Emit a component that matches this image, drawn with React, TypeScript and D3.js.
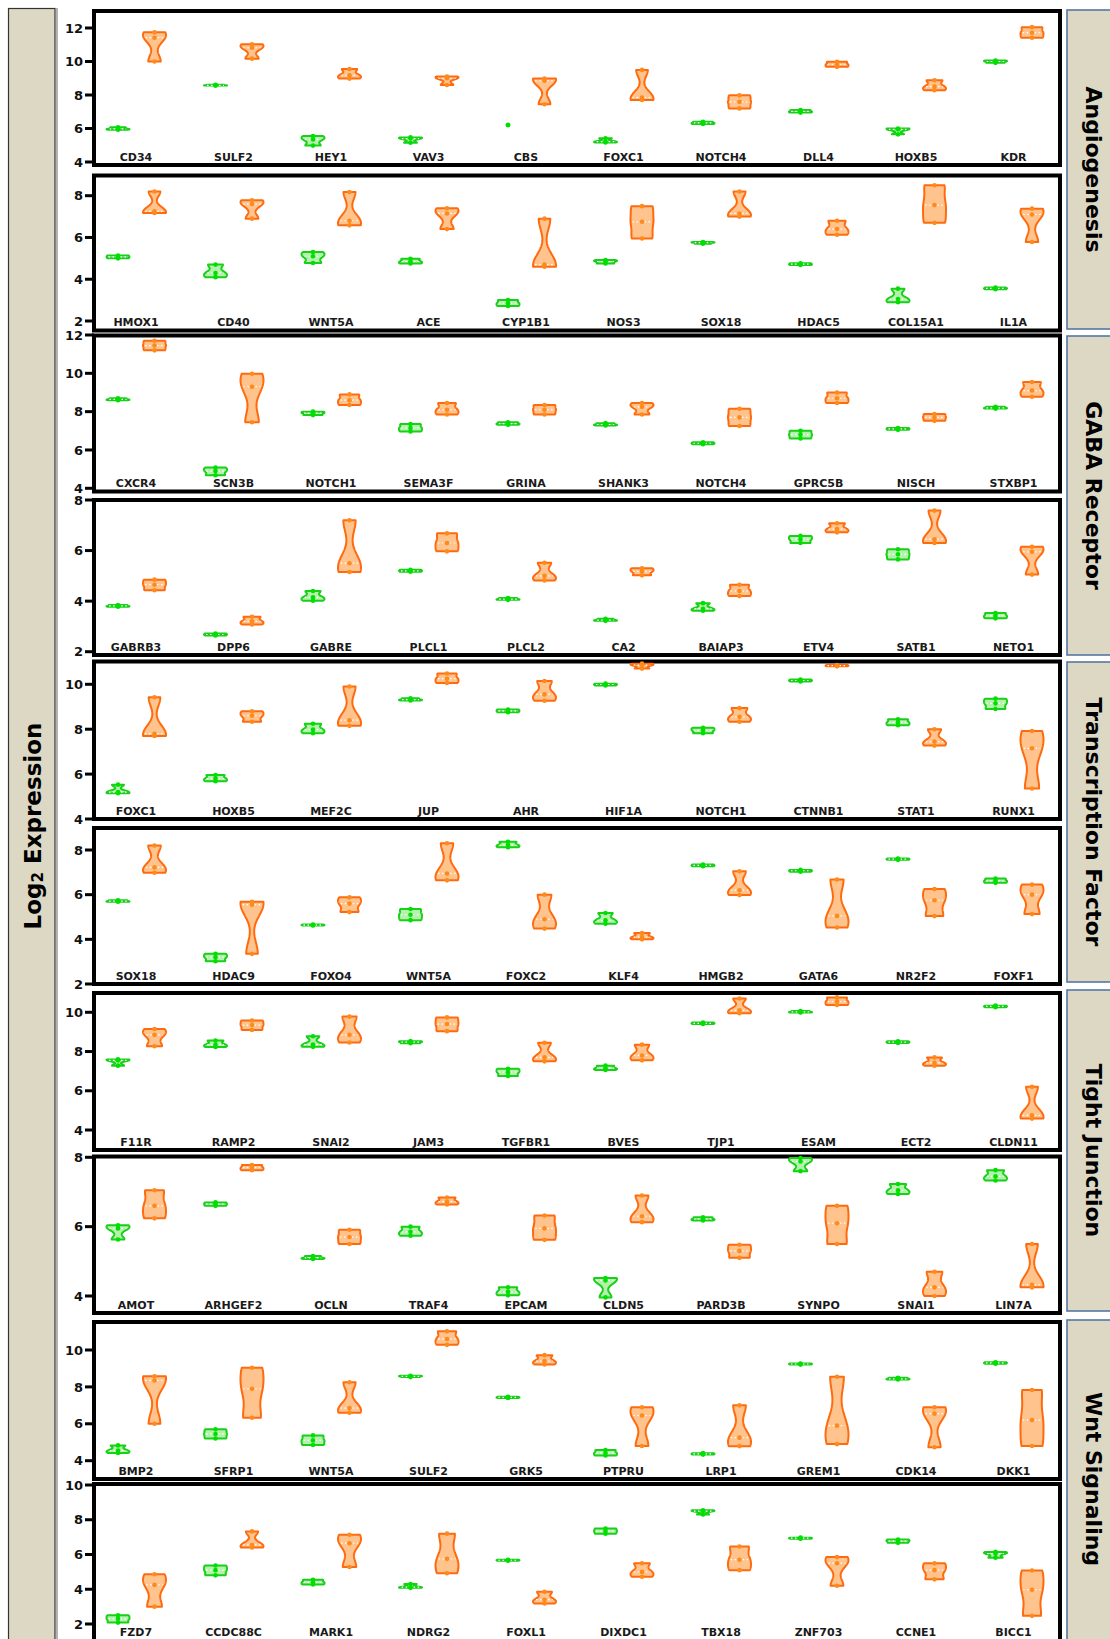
import React from "react";
import * as d3 from "d3";

// ---------- DATA ----------
const groupLabels = ["Angiogenesis", "GABA Receptor", "Transcription Factor", "Tight Junction", "Wnt Signaling"];
const yAxisTitle = "Log";
const yAxisSub = "2";
const yAxisRest = " Expression";

const genes1 = ["CD34", "SULF2", "HEY1", "VAV3", "CBS", "FOXC1", "NOTCH4", "DLL4", "HOXB5", "KDR"];
const green1 = [[5.93, 5.98, 6.07], [8.56, 8.58, 8.61], [4.98, 5.35, 5.55], [5.15, 5.4, 5.47], [6.21, 6.21, 6.21], [5.17, 5.22, 5.42], [6.27, 6.33, 6.4], [6.95, 7.02, 7.1], [5.65, 5.95, 6.0], [9.92, 10.0, 10.06]];
const orange1 = [[10.0, 11.42, 11.74], [10.17, 10.82, 11.03], [8.98, 9.18, 9.55], [8.6, 9.0, 9.1], [7.45, 8.85, 8.98], [7.7, 7.85, 9.5], [7.2, 7.59, 7.98], [9.68, 9.82, 9.98], [8.28, 8.5, 8.88], [11.42, 11.72, 12.05]];
const ticks1 = [4, 6, 8, 10, 12];

const genes2 = ["HMOX1", "CD40", "WNT5A", "ACE", "CYP1B1", "NOS3", "SOX18", "HDAC5", "COL15A1", "IL1A"];
const green2 = [[5.0, 5.07, 5.14], [4.1, 4.3, 4.7], [4.78, 5.1, 5.3], [4.75, 4.85, 4.98], [2.72, 2.85, 3.0], [4.75, 4.85, 4.92], [5.7, 5.75, 5.78], [4.68, 4.72, 4.76], [2.9, 3.05, 3.55], [3.52, 3.56, 3.6]];
const orange2 = [[7.17, 7.25, 8.2], [6.9, 7.6, 7.78], [6.58, 6.8, 8.18], [6.4, 7.15, 7.4], [4.6, 4.7, 6.9], [5.95, 6.75, 7.5], [7.0, 7.15, 8.2], [6.13, 6.4, 6.8], [6.7, 7.55, 8.5], [5.78, 7.1, 7.38]];
const ticks2 = [2, 4, 6, 8];

const genes3 = ["CXCR4", "SCN3B", "NOTCH1", "SEMA3F", "GRINA", "SHANK3", "NOTCH4", "GPRC5B", "NISCH", "STXBP1"];
const green3 = [[8.6, 8.64, 8.7], [4.68, 4.9, 5.08], [7.82, 7.92, 8.0], [6.97, 7.15, 7.35], [7.32, 7.38, 7.45], [7.28, 7.33, 7.4], [6.3, 6.35, 6.4], [6.6, 6.8, 7.0], [7.05, 7.1, 7.15], [8.16, 8.2, 8.25]];
const orange3 = [[11.2, 11.45, 11.7], [7.45, 9.3, 9.98], [8.35, 8.6, 8.9], [7.85, 8.1, 8.45], [7.85, 8.1, 8.35], [7.85, 8.25, 8.45], [7.25, 7.7, 8.15], [8.45, 8.7, 9.0], [7.52, 7.7, 7.88], [8.78, 9.1, 9.55]];
const ticks3 = [4, 6, 8, 10, 12];

const genes4 = ["GABRB3", "DPP6", "GABRE", "PLCL1", "PLCL2", "CA2", "BAIAP3", "ETV4", "SATB1", "NETO1"];
const green4 = [[3.78, 3.81, 3.85], [2.64, 2.68, 2.72], [4.02, 4.15, 4.4], [5.16, 5.2, 5.24], [4.05, 4.08, 4.12], [3.22, 3.25, 3.3], [3.62, 3.7, 3.92], [6.3, 6.45, 6.58], [5.65, 5.85, 6.05], [3.32, 3.42, 3.53]];
const orange4 = [[4.43, 4.65, 4.85], [3.08, 3.2, 3.38], [5.15, 5.5, 7.2], [5.97, 6.3, 6.68], [4.82, 5.0, 5.52], [5.02, 5.18, 5.3], [4.2, 4.4, 4.65], [6.72, 6.85, 7.08], [6.3, 6.45, 7.58], [5.05, 5.95, 6.15]];
const ticks4 = [2, 4, 6, 8];

const genes5 = ["FOXC1", "HOXB5", "MEF2C", "JUP", "AHR", "HIF1A", "NOTCH1", "CTNNB1", "STAT1", "RUNX1"];
const green5 = [[5.15, 5.2, 5.53], [5.68, 5.8, 5.96], [7.82, 7.98, 8.24], [9.28, 9.32, 9.38], [8.76, 8.82, 8.88], [9.95, 9.99, 10.03], [7.82, 7.95, 8.06], [10.13, 10.17, 10.21], [8.18, 8.3, 8.44], [8.9, 9.15, 9.36]];
const orange5 = [[7.7, 7.8, 9.42], [8.33, 8.6, 8.8], [8.15, 8.4, 9.9], [10.06, 10.25, 10.48], [9.27, 9.55, 10.15], [10.7, 10.85, 10.92], [8.33, 8.55, 8.94], [10.8, 10.83, 10.86], [7.27, 7.45, 8.0], [5.36, 7.15, 7.92]];
const ticks5 = [4, 6, 8, 10];

const genes6 = ["SOX18", "HDAC9", "FOXO4", "WNT5A", "FOXC2", "KLF4", "HMGB2", "GATA6", "NR2F2", "FOXF1"];
const green6 = [[5.68, 5.71, 5.75], [3.02, 3.2, 3.35], [4.62, 4.64, 4.66], [4.86, 5.1, 5.36], [8.12, 8.22, 8.37], [4.7, 4.85, 5.18], [7.27, 7.31, 7.35], [7.03, 7.07, 7.11], [7.56, 7.59, 7.62], [6.53, 6.62, 6.72]];
const orange6 = [[6.98, 7.22, 8.2], [3.35, 5.55, 5.68], [5.22, 5.6, 5.88], [6.64, 6.95, 8.3], [4.48, 4.9, 6.0], [4.0, 4.1, 4.28], [5.98, 6.2, 7.05], [4.53, 5.05, 6.68], [5.04, 5.75, 6.25], [5.13, 6.0, 6.45]];
const ticks6 = [2, 4, 6, 8];

const genes7 = ["F11R", "RAMP2", "SNAI2", "JAM3", "TGFBR1", "BVES", "TJP1", "ESAM", "ECT2", "CLDN11"];
const green7 = [[7.28, 7.55, 7.6], [8.23, 8.35, 8.56], [8.24, 8.35, 8.78], [8.42, 8.48, 8.53], [6.75, 6.95, 7.12], [7.06, 7.15, 7.28], [9.4, 9.44, 9.48], [9.99, 10.02, 10.06], [8.44, 8.48, 8.52], [10.26, 10.3, 10.34]];
const orange7 = [[8.27, 8.85, 9.15], [9.1, 9.35, 9.58], [8.46, 8.85, 9.78], [9.04, 9.4, 9.74], [7.5, 7.7, 8.45], [7.55, 7.8, 8.35], [9.95, 10.1, 10.7], [10.37, 10.55, 10.76], [7.28, 7.42, 7.7], [4.58, 4.75, 6.2]];
const ticks7 = [4, 6, 8, 10];

const genes8 = ["AMOT", "ARHGEF2", "OCLN", "TRAF4", "EPCAM", "CLDN5", "PARD3B", "SYNPO", "SNAI1", "LIN7A"];
const green8 = [[5.63, 5.95, 6.04], [6.6, 6.65, 6.7], [5.07, 5.1, 5.15], [5.74, 5.85, 6.0], [4.02, 4.12, 4.25], [3.96, 4.45, 4.52], [6.18, 6.22, 6.27], [7.6, 7.88, 7.98], [6.94, 7.05, 7.23], [7.33, 7.45, 7.63]];
const orange8 = [[6.24, 6.6, 7.05], [7.63, 7.7, 7.78], [5.5, 5.7, 5.91], [6.64, 6.72, 6.84], [5.62, 5.95, 6.32], [6.13, 6.3, 6.9], [5.1, 5.3, 5.48], [5.5, 6.1, 6.6], [4.0, 4.25, 4.7], [4.25, 4.32, 5.5]];
const ticks8 = [4, 6, 8];

const genes9 = ["BMP2", "SFRP1", "WNT5A", "SULF2", "GRK5", "PTPRU", "LRP1", "GREM1", "CDK14", "DKK1"];
const green9 = [[4.42, 4.55, 4.83], [5.2, 5.45, 5.7], [4.85, 5.1, 5.37], [8.53, 8.57, 8.6], [7.4, 7.43, 7.46], [4.28, 4.42, 4.58], [4.33, 4.37, 4.41], [9.21, 9.24, 9.27], [8.4, 8.44, 8.49], [9.26, 9.3, 9.34]];
const orange9 = [[6.0, 8.35, 8.58], [6.33, 7.9, 9.04], [6.6, 6.85, 8.25], [10.28, 10.6, 11.02], [9.22, 9.4, 9.72], [4.8, 6.45, 6.9], [4.79, 5.25, 7.0], [4.9, 5.9, 8.55], [4.73, 6.55, 6.9], [4.8, 6.2, 7.83]];
const ticks9 = [4, 6, 8, 10];

const genes10 = ["FZD7", "CCDC88C", "MARK1", "NDRG2", "FOXL1", "DIXDC1", "TBX18", "ZNF703", "CCNE1", "BICC1"];
const green10 = [[2.08, 2.3, 2.5], [4.8, 5.1, 5.37], [4.27, 4.4, 4.55], [4.08, 4.12, 4.3], [5.64, 5.67, 5.7], [7.2, 7.35, 7.5], [8.3, 8.5, 8.54], [6.91, 6.94, 6.97], [6.67, 6.77, 6.86], [5.82, 6.05, 6.15]];
const orange10 = [[3.0, 4.25, 4.86], [6.4, 6.55, 7.33], [5.28, 6.65, 7.14], [4.92, 5.75, 7.2], [3.18, 3.4, 3.85], [4.72, 5.0, 5.5], [5.1, 5.7, 6.46], [4.2, 5.5, 5.85], [4.57, 5.1, 5.5], [2.47, 3.97, 5.08]];
const ticks10 = [2, 4, 6, 8, 10];

const panelData = [
  { genes: genes1, green: green1, orange: orange1, ticks: ticks1 },
  { genes: genes2, green: green2, orange: orange2, ticks: ticks2 },
  { genes: genes3, green: green3, orange: orange3, ticks: ticks3 },
  { genes: genes4, green: green4, orange: orange4, ticks: ticks4 },
  { genes: genes5, green: green5, orange: orange5, ticks: ticks5 },
  { genes: genes6, green: green6, orange: orange6, ticks: ticks6 },
  { genes: genes7, green: green7, orange: orange7, ticks: ticks7 },
  { genes: genes8, green: green8, orange: orange8, ticks: ticks8 },
  { genes: genes9, green: green9, orange: orange9, ticks: ticks9 },
  { genes: genes10, green: green10, orange: orange10, ticks: ticks10 },
];

// ---------- LAYOUT ----------
const W = 1110;
const H = 1639;
const FONT = "'DejaVu Sans', Arial, sans-serif";
const FRAME_L = 94;
const FRAME_R = 1060;
// frame top/bottom; two reference tick values with their pixel rows; label baseline
const panelLayout = [
  { top: 11, bottom: 165, v0: 4, p0: 162, v1: 12, p1: 28, lab: 160.5 },
  { top: 175.5, bottom: 330.5, v0: 2, p0: 321, v1: 8, p1: 195.7, lab: 326 },
  { top: 335.5, bottom: 491.5, v0: 4, p0: 488.3, v1: 12, p1: 335, lab: 487 },
  { top: 500, bottom: 655, v0: 2, p0: 651.7, v1: 8, p1: 500, lab: 650.5 },
  { top: 661.5, bottom: 819, v0: 4, p0: 819, v1: 10, p1: 684.3, lab: 814.5 },
  { top: 828, bottom: 984, v0: 2, p0: 984, v1: 8, p1: 850, lab: 979.5 },
  { top: 993, bottom: 1150, v0: 4, p0: 1130, v1: 10, p1: 1012.3, lab: 1145.5 },
  { top: 1156.5, bottom: 1313, v0: 4, p0: 1296, v1: 8, p1: 1157.3, lab: 1308.5 },
  { top: 1322, bottom: 1479, v0: 4, p0: 1460.7, v1: 10, p1: 1350, lab: 1474.5 },
  { top: 1484, bottom: 1642, v0: 2, p0: 1624, v1: 10, p1: 1485, lab: 1635.5 },
];
const stripLayout = [
  { top: 10, bottom: 329 },
  { top: 336, bottom: 655 },
  { top: 662, bottom: 982 },
  { top: 990, bottom: 1311 },
  { top: 1320, bottom: 1660 },
];

const HALF_W = 11.5;
const GREEN = { stroke: "#17d017", fill: "#b4f1ac", dot: "#00e000" };
const ORANGE = { stroke: "#ff6a0e", fill: "#ffc48e", dot: "#ff8a1c" };

function violinProfile(vals: number[]) {
  const s = [...vals].sort((a, b) => a - b);
  const n = s.length;
  const min = s[0];
  const max = s[n - 1];
  if (max - min < 1e-6) return null;
  const sd = d3.deviation(s) as number;
  const iqr = (d3.quantile(s, 0.75) as number) - (d3.quantile(s, 0.25) as number);
  const spread = Math.min(sd, iqr / 1.34 > 0 ? iqr / 1.34 : sd);
  const h = 0.9 * spread * Math.pow(n, -0.2) * 0.9;
  const N = 50;
  const pts = d3.range(N + 1).map((i) => {
    const v = min + ((max - min) * i) / N;
    const dens = d3.sum(s, (x) => Math.exp(-0.5 * ((v - x) / h) ** 2));
    return { v, d: dens };
  });
  const dmax = d3.max(pts, (p) => p.d) as number;
  return pts.map((p) => ({ v: p.v, w: p.d / dmax }));
}

function Violin({ vals, cx, y, col }: { vals: number[]; cx: number; y: d3.ScaleLinear<number, number>; col: typeof GREEN }) {
  const prof = violinProfile(vals);
  const s = [...vals].sort((a, b) => a - b);
  const med = s[1];
  let pathD: string | null = null;
  let medW = 0;
  if (prof) {
    const area = d3
      .area<{ v: number; w: number }>()
      .y((p) => y(p.v))
      .x0((p) => cx - Math.max(p.w, 0.04) * HALF_W)
      .x1((p) => cx + Math.max(p.w, 0.04) * HALF_W);
    pathD = area(prof);
    const idx = d3.bisector((p: { v: number }) => p.v).center(prof, med);
    medW = prof[idx].w * HALF_W;
  }
  return (
    <g>
      {pathD && (
        <path d={pathD} fill={col.fill} stroke={col.stroke} strokeWidth={2} strokeLinejoin="round" />
      )}
      {pathD && medW > 4 && (
        <line x1={cx - medW + 2} x2={cx + medW - 2} y1={y(med)} y2={y(med)} stroke="#fff" strokeWidth={1.2} strokeDasharray="1.5,2.5" />
      )}
      {vals.map((v, i) => (
        <circle key={i} cx={cx} cy={y(v)} r={2.3} fill={col.dot} />
      ))}
    </g>
  );
}

function Panel({ idx }: { idx: number }) {
  const data = panelData[idx];
  const lay = panelLayout[idx];
  const y = d3.scaleLinear().domain([lay.v0, lay.v1]).range([lay.p0, lay.p1]);
  const x = d3.scalePoint<string>().domain(data.genes).range([136, 1013.5]);
  const grp = d3.scalePoint<string>().domain(["g", "o"]).range([-18, 18.5]);
  return (
    <g>
      <rect x={FRAME_L} y={lay.top} width={FRAME_R - FRAME_L} height={lay.bottom - lay.top} fill="#fff" stroke="#000" strokeWidth={4} />
      {data.ticks.map((t) => (
        <g key={t}>
          <line x1={85} x2={FRAME_L} y1={y(t)} y2={y(t)} stroke="#000" strokeWidth={3} />
          <text x={83} y={y(t) + 4.6} textAnchor="end" fontFamily={FONT} fontWeight="bold" fontSize={13} fill="#111">
            {t}
          </text>
        </g>
      ))}
      {data.genes.map((g, i) => {
        const c = x(g) as number;
        return (
          <g key={g + i}>
            <Violin vals={data.green[i]} cx={c + (grp("g") as number)} y={y} col={GREEN} />
            <Violin vals={data.orange[i]} cx={c + (grp("o") as number)} y={y} col={ORANGE} />
            <text x={c} y={lay.lab} textAnchor="middle" fontFamily={FONT} fontWeight="bold" fontSize={11} fill="#1a1a1a">
              {g}
            </text>
          </g>
        );
      })}
    </g>
  );
}

export default function App() {
  return (
    <svg width={W} height={H} viewBox={`0 0 ${W} ${H}`} style={{ position: "absolute", left: 0, top: 0, background: "#fff" }}>
      <rect x={0} y={0} width={W} height={H} fill="#fff" />
      {/* left strip */}
      <rect x={8.5} y={8.5} width={46.5} height={1645} fill="#ddd8c4" stroke="#333" strokeWidth={1.2} />
      <line x1={57} x2={57} y1={8} y2={H} stroke="#999" strokeWidth={1.5} />
      <text
        transform="translate(33,826) rotate(-90)"
        textAnchor="middle"
        dominantBaseline="central"
        fontFamily={FONT}
        fontWeight="bold"
        fontSize={23}
        fill="#000"
      >
        {yAxisTitle}
        <tspan fontSize={15} dy={5}>{yAxisSub}</tspan>
        <tspan dy={-5}>{yAxisRest}</tspan>
      </text>
      {/* right strips */}
      {stripLayout.map((s, i) => (
        <g key={i}>
          <rect x={1067} y={s.top} width={60} height={s.bottom - s.top} fill="#ddd8c4" stroke="#5577a3" strokeWidth={1.6} />
          <text
            transform={`translate(1093,${(s.top + Math.min(s.bottom, 1638)) / 2}) rotate(90)`}
            textAnchor="middle"
            dominantBaseline="central"
            fontFamily={FONT}
            fontWeight="bold"
            fontSize={22}
            fill="#000"
          >
            {groupLabels[i]}
          </text>
        </g>
      ))}
      {panelData.map((_, i) => (
        <Panel key={i} idx={i} />
      ))}
    </svg>
  );
}
